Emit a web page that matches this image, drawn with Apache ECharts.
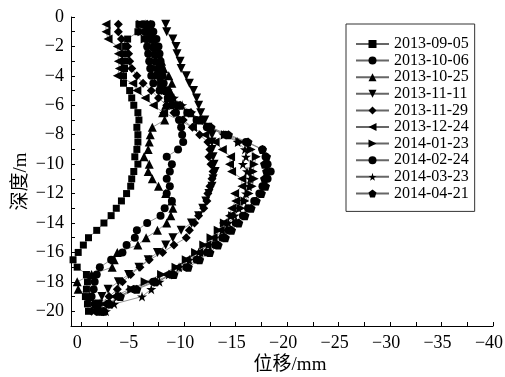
<!DOCTYPE html>
<html>
<head>
<meta charset="utf-8">
<script src="https://cdn.jsdelivr.net/npm/echarts@6/dist/echarts.min.js"></script>
<style>html,body{margin:0;padding:0;background:#fff;}#c{width:505px;height:377px;}</style>
</head>
<body>
<div id="c"></div>
<script>
const depth = [-0.5,-1,-1.5,-2,-2.5,-3,-3.5,-4,-4.5,-5,-5.5,-6,-6.5,-7,-7.5,-8,-8.5,-9,-9.5,-10,-10.5,-11,-11.5,-12,-12.5,-13,-13.5,-14,-14.5,-15,-15.5,-16,-16.5,-17,-17.5,-18,-18.5,-19,-19.5,-20];
const seriesNames = ['2013-09-05','2013-10-06','2013-10-25','2013-11-11','2013-11-29','2013-12-24','2014-01-23','2014-02-24','2014-03-23','2014-04-21'];
const s20130905 = [-5.6,-5.5,-4.5,-4.3,-4.3,-4.2,-4.2,-4.1,-4.1,-4.7,-4.9,-5.1,-5.5,-5.6,-5.4,-5.5,-5.5,-5.4,-5.2,-5.5,-5.1,-4.9,-4.8,-4.4,-3.9,-3.4,-2.9,-2.2,-1.5,-0.7,-0.2,0.3,0.8,0.4,-0.5,-0.6,-0.5,-0.4,-0.6,-0.7];
const s20131006 = [-6.8,-7.0,-7.3,-7.5,-7.6,-7.7,-7.8,-7.9,-8.0,-8.3,-8.5,-8.8,-9.2,-9.5,-9.7,-9.8,-9.9,-9.4,-8.3,-8.8,-8.6,-8.3,-8.6,-8.3,-8.8,-8.1,-7.7,-6.4,-5.4,-5.2,-4.4,-4.0,-2.9,-1.8,-1.5,-1.3,-1.2,-1.0,-1.3,-1.5];
const s20131025 = [-6.7,-6.8,-7.0,-7.2,-7.5,-7.8,-8.0,-8.5,-8.8,-8.6,-8.4,-8.2,-7.9,-8.1,-6.9,-6.7,-6.6,-6.5,-6.1,-6.6,-6.5,-6.9,-7.5,-8.2,-8.8,-8.9,-8.7,-8.3,-7.4,-6.3,-5.5,-3.5,-3.2,-3.0,-1.0,0.4,0.3,-0.8,-1.4,-1.8];
const s20131111 = [-8.2,-8.3,-8.9,-9.2,-9.3,-9.6,-9.7,-10.2,-10.5,-10.9,-11.2,-11.4,-11.6,-12.0,-12.3,-12.7,-12.7,-12.7,-12.8,-12.9,-13.0,-12.8,-12.7,-12.4,-12.1,-11.8,-11.4,-10.7,-9.7,-8.9,-8.2,-7.4,-6.5,-5.6,-4.6,-3.6,-2.6,-2.0,-1.7,-1.5];
const s20131129 = [-3.6,-3.6,-3.9,-4.5,-4.6,-4.7,-4.9,-5.4,-6.0,-6.8,-7.5,-8.3,-9.0,-9.9,-10.8,-11.5,-12.3,-12.5,-12.4,-12.6,-12.8,-12.7,-12.5,-12.3,-12.2,-11.9,-11.4,-11.0,-10.5,-10.2,-9.0,-7.9,-6.6,-5.7,-4.8,-4.0,-3.5,-2.7,-1.8,-1.0];
const s20131224 = [-2.4,-2.4,-2.6,-3.5,-3.6,-3.6,-3.7,-3.5,-5.0,-5.4,-6.2,-7.0,-8.0,-9.5,-10.8,-12.0,-13.0,-13.7,-14.5,-14.4,-14.6,-15.6,-15.6,-14.9,-15.0,-14.6,-14.4,-13.8,-13.5,-12.8,-12.2,-11.4,-10.2,-9.3,-8.2,-6.8,-4.7,-3.2,-2.2,-1.8];
const s20140123 = [-5.8,-5.9,-6.2,-6.6,-6.8,-7.0,-7.2,-7.5,-7.8,-8.2,-8.8,-9.5,-10.4,-11.3,-12.6,-14.0,-15.4,-16.5,-17.0,-16.8,-16.7,-16.8,-16.6,-16.3,-15.9,-15.5,-14.7,-13.9,-13.3,-12.6,-11.9,-11.1,-10.2,-9.2,-7.8,-6.2,-4.9,-3.7,-2.8,-2.2];
const s20140224 = [-6.0,-6.2,-6.3,-6.4,-6.5,-6.6,-6.7,-6.8,-7.0,-7.6,-8.4,-9.3,-10.3,-11.2,-12.2,-14.0,-16.0,-17.6,-17.9,-18.1,-18.4,-18.1,-17.6,-17.3,-16.8,-16.2,-15.7,-15.0,-14.3,-13.7,-13.0,-12.2,-11.2,-10.2,-8.8,-7.0,-5.2,-3.6,-2.6,-2.0];
const s20140323 = [-6.2,-6.3,-6.6,-6.9,-7.1,-7.3,-7.5,-7.6,-7.9,-8.4,-9.0,-9.8,-10.7,-11.5,-12.5,-13.8,-15.2,-15.9,-16.0,-15.7,-16.1,-16.4,-16.3,-16.0,-15.8,-15.3,-14.9,-14.3,-13.7,-13.0,-12.3,-11.4,-10.5,-9.5,-8.5,-7.6,-6.8,-5.9,-3.2,-2.4];
const s20140421 = [-6.4,-6.6,-6.8,-7.0,-7.1,-7.2,-7.4,-7.6,-7.8,-8.2,-8.8,-9.6,-10.6,-11.6,-12.6,-14.3,-16.2,-17.6,-18.0,-17.8,-18.0,-17.8,-17.9,-17.5,-17.0,-16.5,-15.9,-15.3,-14.6,-14.0,-13.3,-12.5,-11.5,-10.4,-9.0,-7.2,-5.4,-3.8,-2.8,-2.2];
const xTicksLabeled = [0,-5,-10,-15,-20,-25,-30,-35,-40];
const yTicksLabeled = [0,-2,-4,-6,-8,-10,-12,-14,-16,-18,-20];

const allValues = [s20130905,s20131006,s20131025,s20131111,s20131129,s20131224,s20140123,s20140224,s20140323,s20140421];
const symbols = [
  'rect',
  'circle',
  'triangle',
  'path://M0,0 L10,0 L5,9 Z',
  'diamond',
  'path://M9,0 L9,10 L0,5 Z',
  'path://M0,0 L0,10 L9,5 Z',
  'circle',
  'path://M50,0 L61,35 L98,35 L68,57 L79,91 L50,70 L21,91 L32,57 L2,35 L39,35 Z',
  'path://M50,0 L98,35 L79,91 L21,91 L2,35 Z'
];
const sizes = [7,8,9,9,9,9,9,8,10,9];
const fmtNum = v => v === 0 ? '0' : (v < 0 ? '\u2212' + Math.abs(v) : String(v));
const serif = '"Liberation Serif", "Times New Roman", serif';
const cjk = '"Liberation Serif", "Noto Sans CJK SC", serif';

const series = seriesNames.map((n, i) => ({
  name: n,
  type: 'line',
  data: allValues[i].map((v, k) => [v, depth[k]]),
  symbol: symbols[i],
  symbolSize: sizes[i],
  showAllSymbol: true,
  itemStyle: { color: '#000' },
  lineStyle: { color: '#666', width: 0.7 },
  emphasis: { disabled: true },
  animation: false
}));

const chart = echarts.init(document.getElementById('c'), null, { renderer: 'canvas' });
chart.setOption({
  backgroundColor: '#fff',
  animation: false,
  grid: { left: 71, right: 12, top: 17, bottom: 51, containLabel: false, outerBoundsMode: 'none' },
  xAxis: {
    type: 'value', inverse: true, min: -40, max: 1, interval: 2.5,
    name: '位移/mm', nameLocation: 'middle', nameGap: 30, nameMoveOverlap: false,
    nameTextStyle: { fontFamily: cjk, fontSize: 19, fontWeight: 'normal', color: '#000', padding: [0, 0, 0, 16] },
    axisLine: { onZero: false, lineStyle: { color: '#000', width: 1 } },
    axisTick: { inside: true, length: 4, lineStyle: { color: '#000' } },
    axisLabel: { margin: 8, fontFamily: serif, fontSize: 18, color: '#000', padding: [0, 8, 0, 0],
      showMaxLabel: false,
      formatter: v => xTicksLabeled.indexOf(v) >= 0 ? fmtNum(v) : '' },
    splitLine: { show: false }
  },
  yAxis: {
    type: 'value', min: -21, max: 0, interval: 1,
    name: '深度/m', nameLocation: 'middle', nameGap: 40, nameRotate: 90, nameMoveOverlap: false,
    nameTextStyle: { fontFamily: cjk, fontSize: 19, fontWeight: 'normal', color: '#000', padding: [0, 20, 0, 0] },
    axisLine: { onZero: false, lineStyle: { color: '#000', width: 1 } },
    axisTick: { inside: true, length: 4, lineStyle: { color: '#000' } },
    axisLabel: { margin: 7, fontFamily: serif, fontSize: 18, color: '#000',
      formatter: v => yTicksLabeled.indexOf(v) >= 0 ? fmtNum(v) : '' },
    splitLine: { show: false }
  },
  legend: {
    orient: 'vertical', left: 346, top: 24,
    padding: [12, 6, 10, 9],
    itemWidth: 33, itemHeight: 10, itemGap: 0.6,
    borderColor: '#333', borderWidth: 1,
    textStyle: { fontFamily: serif, fontSize: 16, color: '#000' },
    data: seriesNames
  },
  series: series
});
</script>
</body>
</html>
